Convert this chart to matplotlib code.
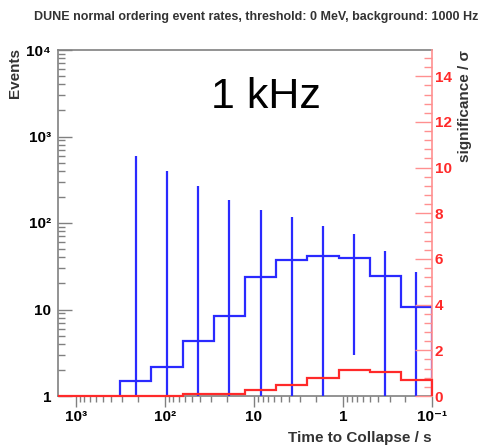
import matplotlib
matplotlib.use("Agg")
import matplotlib.pyplot as plt
from matplotlib.ticker import FixedLocator, NullFormatter, MultipleLocator, FuncFormatter
import numpy as np

plt.rcParams['font.family'] = ['Liberation Sans', 'DejaVu Sans']

# bin edges of the histograms (time to collapse, s)
bin_edges = [0.1, 0.224, 0.501, 1.12, 2.51, 5.62, 12.6, 28.2, 63.1, 141.3, 316.2, 707.9, 1585.0]

# blue: event counts in the first 10 bins (0.1 s .. 316 s)
events = [10.6, 24.6, 39.7, 41.5, 37.3, 23.5, 8.5, 4.3, 2.15, 1.5]
events_hi = [26.9, 47.8, 74.0, 93.0, 116.0, 141.0, 184.0, 270.0, 402.0, 595.0]
events_lo = [0.0, 0.0, 3.0, 0.0, 0.0, 0.0, 0.0, 0.0, 0.0, 0.0]

# red: significance in all 12 bins
significance = [0.68, 1.05, 1.16, 0.80, 0.48, 0.25, 0.10, 0.10, 0.0, 0.0, 0.0, 0.0]

BLUE = '#2a2aff'
RED = '#ff2a2a'
PINK = '#ff9090'
FRAME = '#808080'

fig = plt.figure(figsize=(4.89, 4.45), dpi=100)
ax = fig.add_axes([58 / 489, 49 / 445, 374 / 489, 346 / 445])
ax2 = ax.twinx()

ax.set_xscale('log')
ax.set_yscale('log')
ax.set_xlim(1585.0, 0.1)
ax.set_ylim(1, 1e4)

# blue histogram with error bars
edges_blue = bin_edges[:len(events) + 1]
ax.stairs(events, edges_blue, baseline=1, color=BLUE, lw=1.6, zorder=3)
centers = np.sqrt(np.array(edges_blue[:-1]) * np.array(edges_blue[1:]))
lo = np.where(np.array(events_lo) > 0, events_lo, 1e-3)
ax.vlines(centers, lo, events_hi, color=BLUE, lw=1.6, zorder=3)

for side in ['left', 'top', 'bottom']:
    ax.spines[side].set_color(FRAME)
    ax.spines[side].set_linewidth(1.2)
ax.spines['right'].set_visible(False)


def sup_fmt(v, pos):
    e = int(round(np.log10(v)))
    sup = {-1: '10\u207b\u00b9', 0: '1', 1: '10', 2: '10\u00b2', 3: '10\u00b3', 4: '10\u2074'}
    return sup.get(e, '')


ax.xaxis.set_major_locator(FixedLocator([0.1, 1, 10, 100, 1000]))
ax.xaxis.set_major_formatter(FuncFormatter(sup_fmt))
ax.xaxis.set_minor_formatter(NullFormatter())
ax.yaxis.set_major_locator(FixedLocator([1, 10, 100, 1000, 10000]))
ax.yaxis.set_major_formatter(FuncFormatter(sup_fmt))
ax.yaxis.set_minor_formatter(NullFormatter())

# red significance on right axis
ax2.set_ylim(0, 15.15)
ax2.stairs(significance, bin_edges, baseline=0, color=RED, lw=1.6, zorder=4, clip_on=False)
for side in ['left', 'top', 'bottom']:
    ax2.spines[side].set_visible(False)
ax2.spines['right'].set_color(PINK)
ax2.spines['right'].set_linewidth(1.2)
ax2.yaxis.set_major_locator(MultipleLocator(2))
ax2.yaxis.set_minor_locator(MultipleLocator(0.4))

ax.tick_params(axis='x', which='major', direction='out', length=8, width=1, color=FRAME,
               labelsize=11, pad=2, top=False)
ax.tick_params(axis='x', which='minor', direction='out', length=4, width=1, color=FRAME, top=False)
ax.tick_params(axis='y', which='major', direction='in', length=10, width=1, color=FRAME,
               labelsize=11, pad=5, left=True, right=False)
ax.tick_params(axis='y', which='minor', direction='in', length=5, width=1, color=FRAME,
               left=True, right=False)
ax2.tick_params(axis='y', which='major', direction='in', length=12, width=1, color=PINK,
                labelcolor=RED, labelsize=11, pad=2)
ax2.tick_params(axis='y', which='minor', direction='in', length=6, width=1, color=PINK)

for t in ax.get_xticklabels() + ax.get_yticklabels() + ax2.get_yticklabels():
    t.set_fontweight('bold')

# labels
fig.text(256 / 489, 1 - 17 / 445,
         'DUNE normal ordering event rates, threshold: 0 MeV, background: 1000 Hz',
         ha='center', va='center', fontsize=9, fontweight='bold', color='#333333')
fig.text(15.5 / 489, 1 - 48 / 445, 'Events', rotation=90, ha='center', va='top',
         fontsize=11, fontweight='bold', color='#333333')
fig.text(465 / 489, 1 - 50 / 445, 'significance / \u03c3', rotation=90, ha='center', va='top',
         fontsize=11, fontweight='bold', color='#333333')
fig.text(432 / 489, 1 - 438 / 445, 'Time to Collapse / s', ha='right', va='center',
         fontsize=11, fontweight='bold', color='#333333')
fig.text(211 / 489, 1 - 108 / 445, '1 kHz', ha='left', va='baseline', fontsize=31,
         color='black')

fig.savefig('out.png', dpi=100)
